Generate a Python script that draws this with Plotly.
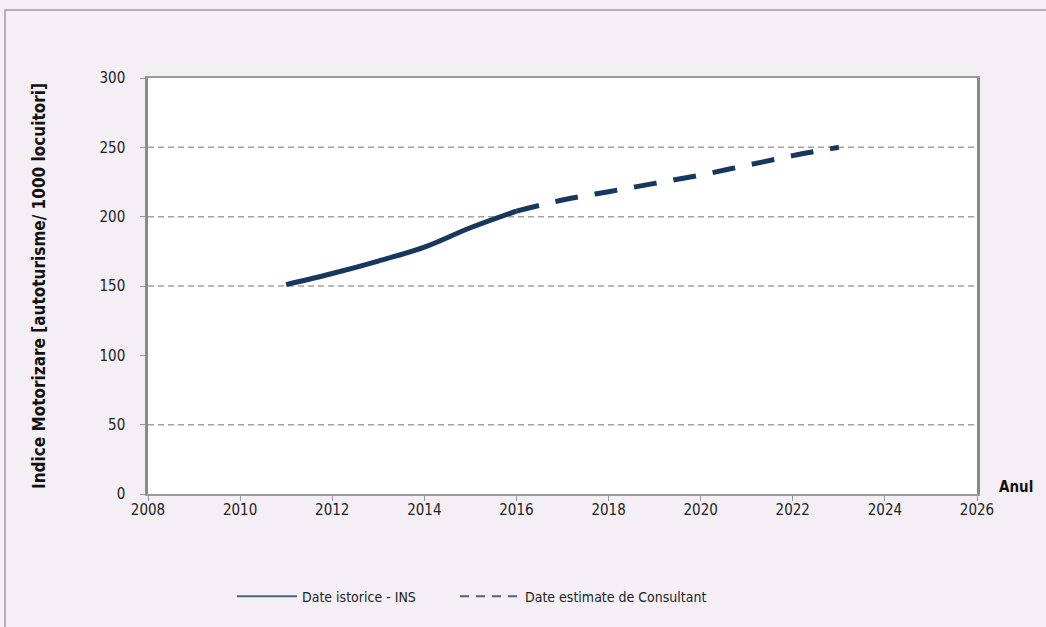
import plotly.graph_objects as go

# Motorisation index: historical (INS) and consultant estimates
years_hist = [2011, 2012, 2013, 2014, 2015, 2016]
index_hist = [151, 159, 168, 178, 192, 204]

years_est = [2016, 2017, 2018, 2019, 2020, 2021, 2022, 2023]
index_est = [204, 212, 218, 224, 230, 237, 244, 250]

grid_values = [50, 150, 200, 250]
x_ticks = list(range(2008, 2027, 2))
y_ticks = [0, 50, 100, 150, 200, 250, 300]

navy = "#17375e"
legend_col = "#4f6482"
font_family = "DejaVu Sans Condensed, DejaVu Sans, sans-serif"

fig = go.Figure()

fig.add_trace(go.Scatter(x=years_hist, y=index_hist, mode="lines",
                         line=dict(color=navy, width=5, shape="spline"),
                         showlegend=False, hoverinfo="x+y"))
fig.add_trace(go.Scatter(x=years_est, y=index_est, mode="lines",
                         line=dict(color=navy, width=5, dash="23px,17px", shape="spline"),
                         showlegend=False, hoverinfo="x+y"))

# thinner legend samples, each in its own legend box
fig.add_trace(go.Scatter(x=[None], y=[None], mode="lines", name="Date istorice - INS",
                         line=dict(color=legend_col, width=2), legend="legend"))
fig.add_trace(go.Scatter(x=[None], y=[None], mode="lines", name="Date estimate de Consultant",
                         line=dict(color=legend_col, width=2, dash="9px,7px"), legend="legend2"))

shapes = []
for g in grid_values:
    shapes.append(dict(type="line", xref="paper", yref="y", x0=0, x1=1, y0=g, y1=g,
                       line=dict(color="#a2a2a2", width=1.5, dash="6px,4px"), layer="below"))
# outer chart frame
shapes.append(dict(type="rect", xref="paper", yref="paper",
                   x0=(5 - 148) / 829, x1=1.2, y0=-2, y1=(494 - 10) / 416,
                   line=dict(color="#9d9d9d", width=1.5), fillcolor="rgba(0,0,0,0)", layer="below"))

legend_style = dict(orientation="h", xanchor="left", y=-0.247, yanchor="middle",
                    font=dict(size=14, color="#222222"), itemwidth=60,
                    bgcolor="rgba(0,0,0,0)")

fig.update_layout(
    width=1046, height=627,
    margin=dict(l=148, r=69, t=78, b=133),
    paper_bgcolor="#f3eff5", plot_bgcolor="#ffffff",
    font=dict(family=font_family, size=15, color="#222222"),
    shapes=shapes,
    showlegend=True,
    legend=dict(x=(232 - 148) / 829, **legend_style),
    legend2=dict(x=(455 - 148) / 829, **legend_style),
    annotations=[dict(text="<b>Anul</b>", xref="paper", yref="paper",
                      x=(997 - 148) / 829, y=(494 - 487) / 416, xanchor="left", yanchor="middle",
                      showarrow=False, font=dict(size=15, color="#111111"))],
)

fig.update_xaxes(range=[2008, 2026], tickvals=x_ticks, ticktext=[str(t) for t in x_ticks],
                 showgrid=False, zeroline=False, showline=True, linecolor="#9a9a9a", linewidth=1.5,
                 mirror=True, ticks="outside", ticklen=5, tickcolor="#9a9a9a",
                 ticklabelstandoff=-4, tickfont=dict(size=15))
fig.update_yaxes(range=[0, 300], tickvals=y_ticks, showgrid=False, zeroline=False,
                 showline=True, linecolor="#8a8a8a", linewidth=2.5, mirror=True,
                 ticks="outside", ticklen=5, tickcolor="#9a9a9a", ticklabelstandoff=12,
                 tickfont=dict(size=15),
                 title=dict(text="<b>Indice Motorizare [autoturisme/ 1000 locuitori]</b>",
                            font=dict(size=17, color="#111111"), standoff=50))

fig.write_html("out.html")
